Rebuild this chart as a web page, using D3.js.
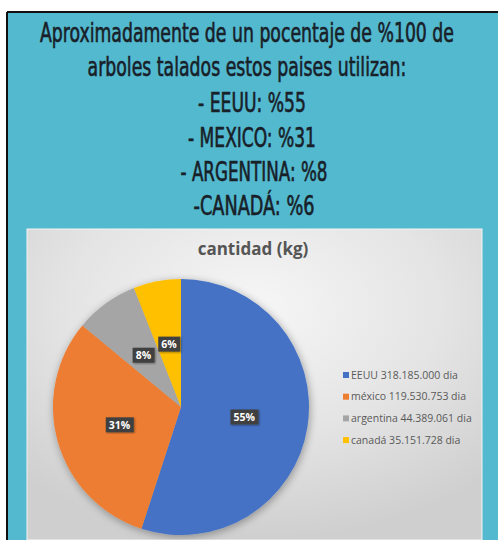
<!DOCTYPE html>
<html>
<head>
<meta charset="utf-8">
<script src="https://cdn.jsdelivr.net/npm/d3@7"></script>
<style>
  html, body { margin: 0; padding: 0; background: #ffffff; }
  svg { display: block; }
</style>
</head>
<body>
<script>
// Chart data
const headingLines = [
  "Aproximadamente de un pocentaje de %100 de",
  "arboles talados estos paises utilizan:",
  "- EEUU: %55",
  "- MEXICO: %31",
  "- ARGENTINA: %8",
  "-CANADÁ: %6"
];
const countries = ["EEUU", "méxico", "argentina", "canadá"];
const shares = [55, 31, 8, 6];
const amounts = ["318.185.000", "119.530.753", "44.389.061", "35.151.728"];
const colors = ["#4472C4", "#ED7D31", "#A5A5A5", "#FFC000"];
const chartTitle = "cantidad (kg)";

const W = 498, H = 540;
const svg = d3.select("body").append("svg").attr("width", W).attr("height", H);
const defs = svg.append("defs");

// cyan poster background with black frame on top/left
svg.append("rect").attr("x", 7).attr("y", 12).attr("width", W - 7).attr("height", H - 12)
  .attr("fill", "#53b9cf");
svg.append("line").attr("x1", 7).attr("x2", W).attr("y1", 12).attr("y2", 12)
  .attr("stroke", "#111").attr("stroke-width", 2);
svg.append("line").attr("x1", 7).attr("x2", 7).attr("y1", 12).attr("y2", H)
  .attr("stroke", "#111").attr("stroke-width", 2);

// heading text: set at natural width, then squeezed horizontally to a condensed look
const lineBaselines = [42, 76, 112, 147, 181, 215];
const lineWidths = [414, 319, 108, 128, 147, 121];
const lineCenters = [247, 247, 252, 252, 254, 254];
svg.append("g").selectAll("text").data(headingLines).join("text")
  .attr("x", 0).attr("y", 0)
  .attr("text-anchor", "middle")
  .attr("font-family", "'Liberation Sans Narrow', 'DejaVu Sans Condensed', sans-serif")
  .attr("font-size", 26)
  .attr("fill", "#182028")
  .attr("stroke", "#182028").attr("stroke-width", 0.6)
  .text(d => d)
  .attr("transform", function (d, i) {
    const natural = this.getComputedTextLength();
    const sx = lineWidths[i] / natural;
    return `translate(${lineCenters[i]},${lineBaselines[i]}) scale(${sx},1)`;
  });

// chart panel with radial shading
const grad = defs.append("radialGradient").attr("id", "panelGrad")
  .attr("cx", "50%").attr("cy", "25%").attr("r", "75%");
grad.append("stop").attr("offset", "0%").attr("stop-color", "#f6f6f6");
grad.append("stop").attr("offset", "55%").attr("stop-color", "#e4e4e4");
grad.append("stop").attr("offset", "100%").attr("stop-color", "#cfcfcf");
const panel = { x: 27, y: 229, w: 455, h: H - 229 };
svg.append("rect").attr("x", panel.x).attr("y", panel.y)
  .attr("width", panel.w).attr("height", panel.h)
  .attr("fill", "url(#panelGrad)").attr("stroke", "#f4f4f4").attr("stroke-width", 1);

svg.append("text").attr("x", 253).attr("y", 255)
  .attr("text-anchor", "middle")
  .attr("font-family", "'Open Sans', sans-serif").attr("font-weight", 700)
  .attr("font-size", 17).attr("fill", "#555")
  .text(chartTitle);

// pie
const shadow = defs.append("filter").attr("id", "pieShadow")
  .attr("x", "-20%").attr("y", "-20%").attr("width", "140%").attr("height", "140%");
shadow.append("feGaussianBlur").attr("in", "SourceAlpha").attr("stdDeviation", 4);
shadow.append("feOffset").attr("dx", 1).attr("dy", 2).attr("result", "b");
shadow.append("feComponentTransfer").append("feFuncA").attr("type", "linear").attr("slope", 0.35);
const fm = shadow.append("feMerge");
fm.append("feMergeNode");
fm.append("feMergeNode").attr("in", "SourceGraphic");

const cx = 181, cy = 407, R = 128;
const pie = d3.pie().sort(null).value(d => d);
const arcs = pie(shares);
const arc = d3.arc().innerRadius(0).outerRadius(R);
const g = svg.append("g").attr("transform", `translate(${cx},${cy})`);
g.append("g").attr("filter", "url(#pieShadow)")
  .selectAll("path").data(arcs).join("path")
  .attr("d", arc)
  .attr("fill", (d, i) => colors[i])
  .attr("stroke", "none");

// data labels in dark boxes
const lblShadow = defs.append("filter").attr("id", "lblShadow");
lblShadow.append("feDropShadow").attr("dx", 1).attr("dy", 1).attr("stdDeviation", 1)
  .attr("flood-color", "#000").attr("flood-opacity", 0.35);
const labels = g.append("g").selectAll("g").data(arcs).join("g")
  .attr("transform", d => { const c = arc.centroid(d); return `translate(${c[0]},${c[1]})`; });
labels.each(function (d) {
  const sel = d3.select(this);
  const t = sel.append("text")
    .attr("text-anchor", "middle").attr("dy", "0.35em")
    .attr("font-family", "'Open Sans', sans-serif").attr("font-weight", 700)
    .attr("font-size", 10.5).attr("fill", "#fff")
    .text(d.data + "%");
  const bb = t.node().getBBox();
  sel.insert("rect", "text")
    .attr("x", bb.x - 3).attr("y", -7.5).attr("width", bb.width + 6).attr("height", 15)
    .attr("fill", "#404040").attr("filter", "url(#lblShadow)");
});

// legend
const legendX = 343, legendY0 = 375, legendStep = 21.7;
const leg = svg.append("g").selectAll("g").data(countries).join("g")
  .attr("transform", (d, i) => `translate(${legendX},${legendY0 + i * legendStep})`);
leg.append("rect").attr("x", 0).attr("y", -3).attr("width", 6).attr("height", 6)
  .attr("fill", (d, i) => colors[i]);
leg.append("text").attr("x", 8).attr("dy", "0.35em")
  .attr("font-family", "'Open Sans', sans-serif").attr("font-size", 10.5)
  .attr("fill", "#595959")
  .text((d, i) => `${d} ${amounts[i]} dia`);
</script>
</body>
</html>
